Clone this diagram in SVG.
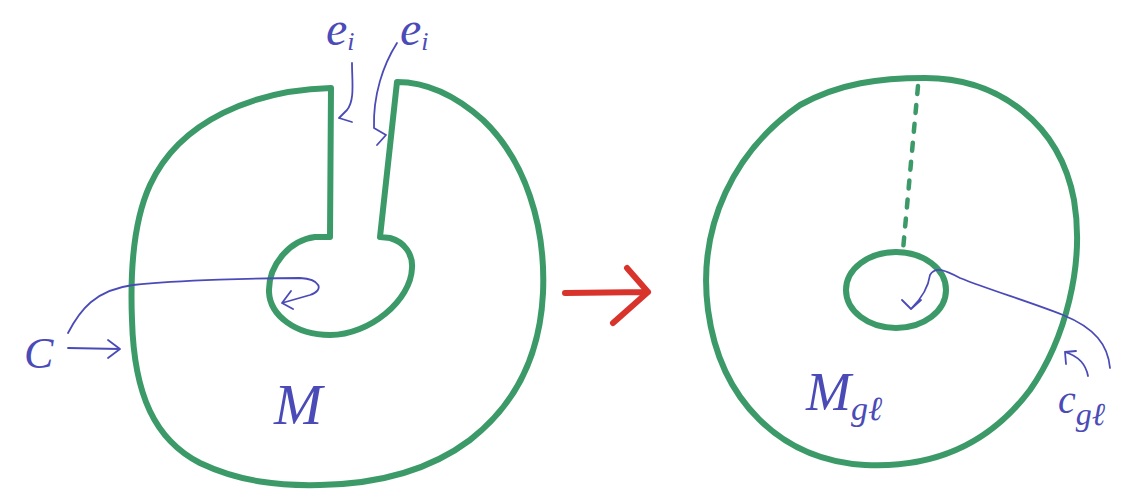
<svg xmlns="http://www.w3.org/2000/svg" width="1148" height="495" viewBox="0 0 1148 495">
  <style>
    .g { fill: none; stroke: #3c9a69; stroke-width: 6; stroke-linecap: round; stroke-linejoin: round; }
    .gd { fill: none; stroke: #3c9a69; stroke-width: 4.5; stroke-linecap: round; stroke-dasharray: 8 11; }
    .b { fill: none; stroke: #4b4bb8; stroke-width: 1.8; stroke-linecap: round; stroke-linejoin: round; }
    .r { fill: none; stroke: #d8342b; stroke-width: 6; stroke-linecap: round; stroke-linejoin: round; }
    .t { fill: #4b4bb8; font-family: "Liberation Serif", "DejaVu Serif", serif; font-style: italic; }
  </style>
  <rect width="1148" height="495" fill="#ffffff"/>

  <g id="surface-M">
    <path class="g" d="M331,88 C255,90 180,120 150,185 C133,222 130,270 132,320 C134,395 155,440 200,463 C240,482 280,486 320,485 C380,484 430,470 470,440 C515,405 540,355 543,293 C546,225 525,160 483,120 C455,95 425,82 397,82 L380,237 L390,238 C405,242 413,255 412,268 C411,300 370,335 330,335 C295,335 270,315 269,292 C268,265 290,240 315,237 L330,237 Z"/>
  </g>

  <g id="surface-Mgl">
    <path class="g" d="M925,78 C1000,78 1060,125 1074,200 C1085,265 1065,340 1030,390 C985,450 925,468 865,465 C780,460 720,400 708,310 C697,225 735,150 800,105 C840,83 880,78 925,78 Z"/>
    <ellipse class="g" cx="896" cy="290" rx="50" ry="38"/>
    <path class="gd" d="M918,86 L903,250"/>
  </g>

  <g id="connectors">
    <path class="r" d="M565,293 L648,292 M627,268 L648,292 L613,323"/>
    <path class="b" d="M352,63 C352,82 355,100 347,110 L339,118 M339,118 L352,122"/>
    <path class="b" d="M397,43 C383,65 373,95 374,128 L386,135 M386,135 L377,145"/>
    <path class="b" d="M68,348 L120,349 M108,340 L120,349 L108,358"/>
    <path class="b" d="M68,333 C80,310 95,290 133,285 C180,280 260,278 300,278 C320,279 325,290 310,295 L282,303 M291,291 L282,303 L293,309"/>
    <path class="b" d="M1110,368 C1108,345 1095,328 1063,315 C1030,302 990,290 960,278 C945,270 935,266 930,275 C928,290 920,300 911,309 M902,300 L911,309 L921,300"/>
    <path class="b" d="M1088,376 C1086,365 1078,356 1065,352 M1065,352 L1066,364 M1065,352 L1076,351"/>
  </g>

  <g id="labels">
    <text class="t" x="326" y="45" font-size="48">e<tspan font-size="26" dy="5">i</tspan></text>
    <text class="t" x="400" y="45" font-size="48">e<tspan font-size="26" dy="5">i</tspan></text>
    <text class="t" x="24" y="368" font-size="44">C</text>
    <text class="t" x="274" y="424" font-size="58">M</text>
    <text class="t" x="806" y="410" font-size="54">M<tspan font-size="34" dy="10">gℓ</tspan></text>
    <text class="t" x="1058" y="413" font-size="40">c<tspan font-size="32" dy="12">gℓ</tspan></text>
  </g>
</svg>
